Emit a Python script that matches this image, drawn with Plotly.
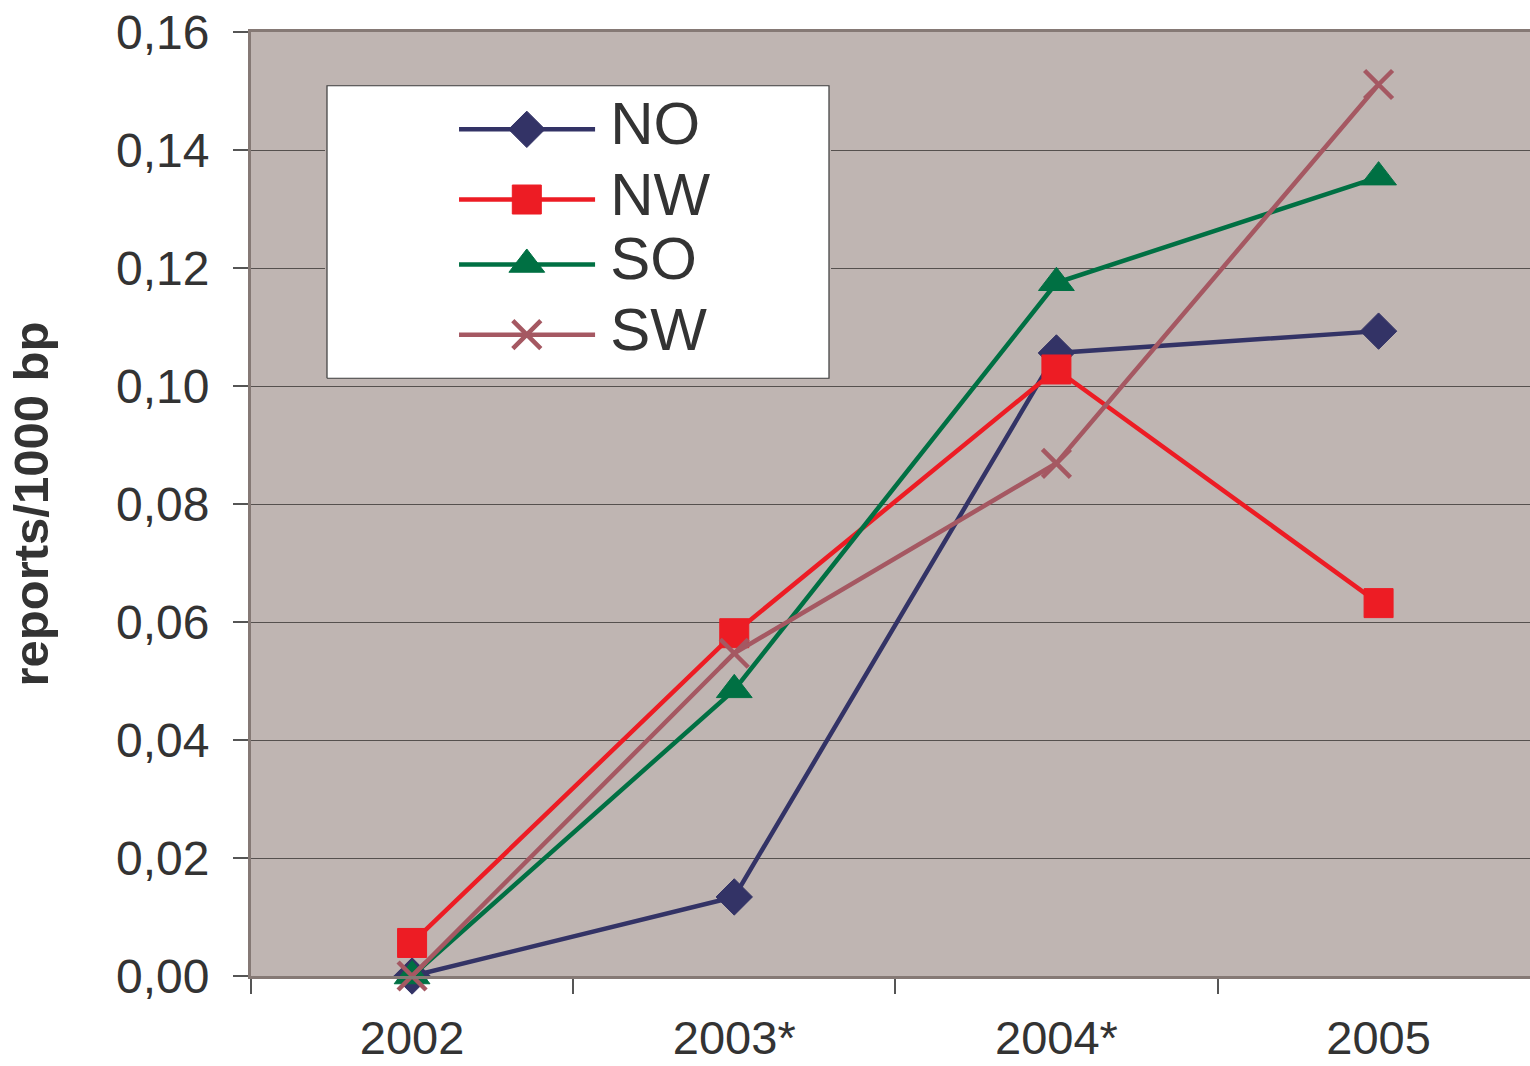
import plotly.graph_objects as go

# Reports per 1000 bp, by region and year
years = ["2002", "2003*", "2004*", "2005"]
series_names = ["NO", "NW", "SO", "SW"]
no_values = [0.0, 0.0134, 0.1056, 0.1093]
nw_values = [0.0056, 0.0581, 0.1028, 0.0632]
so_values = [0.0, 0.0485, 0.1175, 0.1354]
sw_values = [0.0, 0.0547, 0.0869, 0.1511]
y_tick_values = [0.0, 0.02, 0.04, 0.06, 0.08, 0.10, 0.12, 0.14, 0.16]

values_by_series = [no_values, nw_values, so_values, sw_values]

# Styling per series
colors = ["#333366", "#ED1C24", "#007043", "#A55862"]
symbols = ["diamond", "square", "triangle-up", "x-thin"]
sizes = [28, 29, 31, 28]
LINE_W = 4.5

TEXT = "#333333"
FONT = "Liberation Sans, Arial, Helvetica, sans-serif"

W, H = 1530, 1066
L, R, T, B = 251, 0, 32, 90


def marker_style(sym, col, size):
    if sym == "x-thin":
        return dict(symbol=sym, size=size, color=col, opacity=1,
                    line=dict(color=col, width=4.5))
    return dict(symbol=sym, size=size, color=col, opacity=1,
                line=dict(color=col, width=1))


fig = go.Figure()

for name, vals, col, sym, sz in zip(series_names, values_by_series, colors, symbols, sizes):
    fig.add_trace(go.Scatter(
        x=years, y=vals, name=name, mode="lines+markers",
        line=dict(color=col, width=LINE_W),
        marker=marker_style(sym, col, sz), showlegend=False, cliponaxis=False,
        xaxis="x", yaxis="y",
    ))

# Legend box drawn as its own small subplot on top of the chart
plot_w = W - L - R
plot_h = H - T - B
box_px = (325, 831, 84, 380)  # left, right, top, bottom in page pixels
lx0 = (box_px[0] - L) / plot_w
lx1 = (box_px[1] - L) / plot_w
ly0 = (H - B - box_px[3]) / plot_h
ly1 = (H - B - box_px[2]) / plot_h

fig.add_trace(go.Scatter(
    x=[0, 1, 1, 0, 0], y=[0, 0, 1, 1, 0], mode="lines",
    fill="toself", fillcolor="white",
    line=dict(color="#3c3c3c", width=1.2),
    hoverinfo="skip", showlegend=False, xaxis="x2", yaxis="y2",
))

row_y = [0.851, 0.611, 0.389, 0.149]
seg_x = [0.263, 0.398, 0.534]
for name, col, sym, sz, ry in zip(series_names, colors, symbols, sizes, row_y):
    m = marker_style(sym, col, sz)
    m["size"] = [0, sz, 0]
    fig.add_trace(go.Scatter(
        x=seg_x, y=[ry] * 3, mode="lines+markers",
        line=dict(color=col, width=LINE_W), marker=m,
        hoverinfo="skip", showlegend=False, xaxis="x2", yaxis="y2",
    ))
    fig.add_trace(go.Scatter(
        x=[0.564], y=[ry], mode="text", text=[name], textposition="middle right",
        textfont=dict(family=FONT, size=60, color=TEXT),
        hoverinfo="skip", showlegend=False, xaxis="x2", yaxis="y2", cliponaxis=False,
    ))

fig.update_layout(
    width=W, height=H,
    margin=dict(l=L, r=R, t=T, b=B, autoexpand=False),
    paper_bgcolor="white",
    plot_bgcolor="#BFB5B2",
    separators=",.",
    font=dict(family=FONT, color=TEXT),
    showlegend=False,
    xaxis=dict(
        type="category", range=[-0.5, 3.47], automargin=False,
        tickson="boundaries", ticks="outside", ticklen=15, tickwidth=1.5, tickcolor="#555555",
        showgrid=False, showline=True, linecolor="#857975", linewidth=3, mirror=True,
        tickfont=dict(family=FONT, size=47, color=TEXT),
        ticklabelstandoff=19,
        zeroline=False,
    ),
    yaxis=dict(
        range=[0, 0.16], tickvals=y_tick_values, tickformat=".2f", automargin=False,
        ticks="outside", ticklen=15, tickwidth=1.5, tickcolor="#555555",
        showgrid=True, gridcolor="#55504e", gridwidth=1.4,
        showline=True, linecolor="#857975", linewidth=3,
        zeroline=False,
        tickfont=dict(family=FONT, size=48, color=TEXT),
        ticklabelstandoff=14,
        title=dict(text="<b>reports/1000 bp</b>", font=dict(family=FONT, size=49, color=TEXT), standoff=52),
    ),
    xaxis2=dict(domain=[lx0, lx1], range=[-0.004, 1.004], visible=False, anchor="y2", fixedrange=True),
    yaxis2=dict(domain=[ly0, ly1], range=[-0.006, 1.006], visible=False, anchor="x2", fixedrange=True),
)

fig.write_html("out.html")
